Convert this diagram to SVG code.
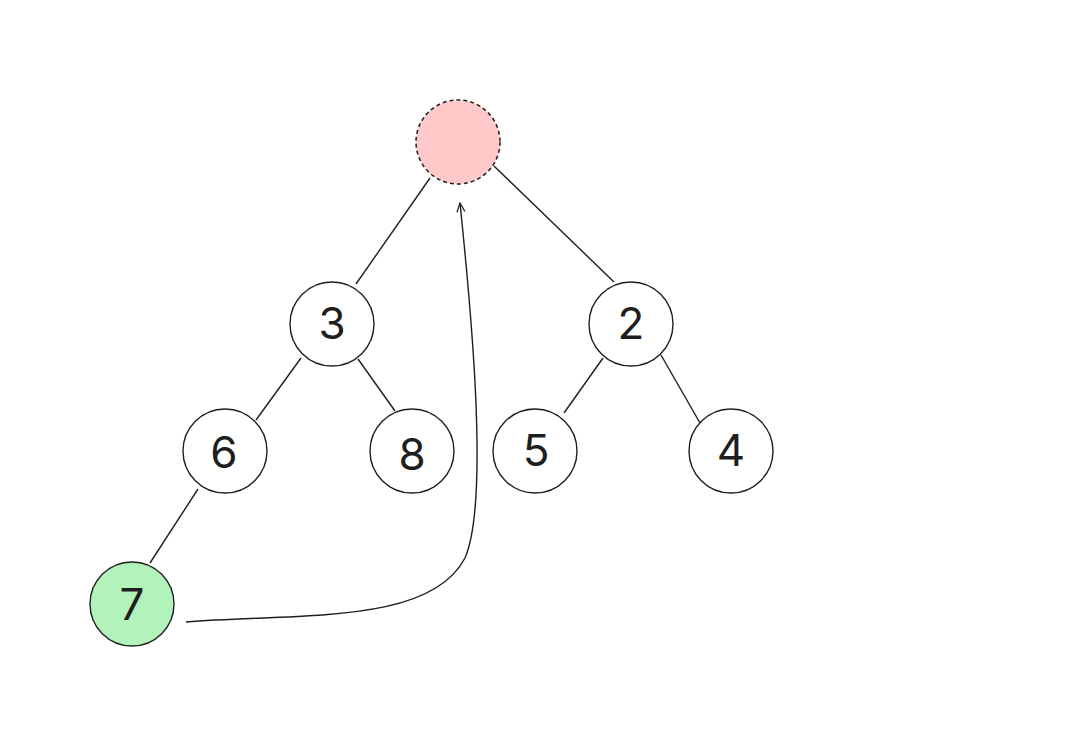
<svg xmlns="http://www.w3.org/2000/svg" width="1074" height="733" viewBox="0 0 1074 733">
<defs>
<style>
.n{fill:#ffffff;stroke:#1e1e1e;stroke-width:1.4}
.t{font-family:Inter,"Noto Sans",sans-serif;font-size:44px;fill:#1e1e1e;text-anchor:middle}
.c{fill:none;stroke:#1e1e1e;stroke-width:1.4}
</style>
<marker id="ah" markerWidth="12" markerHeight="12" refX="10" refY="6" orient="auto" markerUnits="userSpaceOnUse">
<path d="M1,2 L10,6 L1,10" fill="none" stroke="#1e1e1e" stroke-width="1.3"/>
</marker>
</defs>
<rect width="1074" height="733" fill="#ffffff"/>
<g id="connectors">
<line class="c" x1="430" y1="178" x2="356" y2="284"/>
<line class="c" x1="494" y1="166" x2="614" y2="282"/>
<line class="c" x1="301" y1="358" x2="256" y2="420"/>
<line class="c" x1="358" y1="359" x2="395" y2="411"/>
<line class="c" x1="603" y1="358" x2="564" y2="413"/>
<line class="c" x1="661" y1="355" x2="700" y2="423"/>
<line class="c" x1="198" y1="489" x2="150" y2="563"/>
<path class="c" d="M186,622 C300,613 430,625 465,558 C490,500 470,300 460,203" marker-end="url(#ah)"/>
</g>
<g id="node-root"><circle cx="458" cy="142" r="42" fill="#ffc9c9" stroke="#1e1e1e" stroke-width="1.5" stroke-dasharray="4,3"/></g>
<g id="node-3"><circle class="n" cx="332" cy="324" r="42"/><text class="t" x="332" y="339">3</text></g>
<g id="node-2"><circle class="n" cx="631" cy="324" r="42"/><text class="t" x="631" y="339">2</text></g>
<g id="node-6"><circle class="n" cx="225" cy="451" r="42"/><text class="t" x="224" y="468">6</text></g>
<g id="node-8"><circle class="n" cx="412" cy="451" r="42"/><text class="t" x="412" y="470">8</text></g>
<g id="node-5"><circle class="n" cx="535" cy="451" r="42"/><text class="t" x="536" y="466">5</text></g>
<g id="node-4"><circle class="n" cx="731" cy="451" r="42"/><text class="t" x="731" y="466">4</text></g>
<g id="node-7"><circle class="n" cx="132" cy="604" r="42" style="fill:#b2f2bb"/><text class="t" x="132" y="620">7</text></g>
</svg>
